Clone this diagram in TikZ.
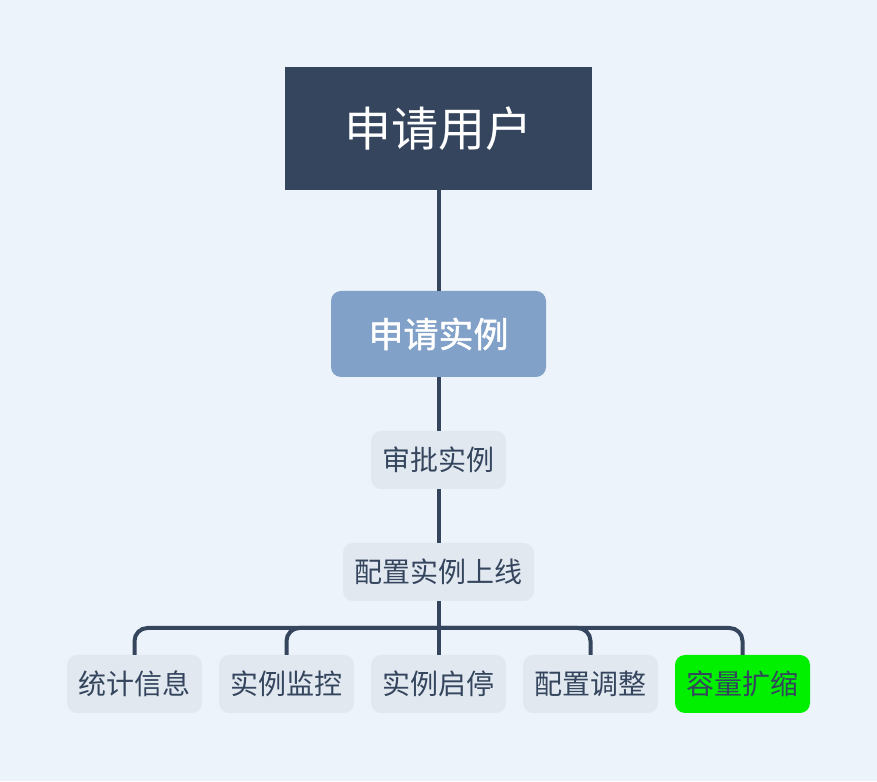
\documentclass[tikz,border=0pt]{standalone}
\usepackage{fontspec}
\newfontfamily\cjk{Noto Sans CJK SC}
\newfontfamily\cjkmed[FakeBold=1.3]{Noto Sans CJK SC}
\usetikzlibrary{positioning}
\definecolor{bg}{RGB}{236,243,250}
\definecolor{dark}{RGB}{52,69,93}
\definecolor{mainblue}{RGB}{130,161,200}
\definecolor{subfill}{RGB}{225,232,240}
\definecolor{hlgreen}{RGB}{0,240,0}
\tikzset{
  rootbox/.style={fill=dark, text=white, minimum width=307pt, minimum height=123pt, inner sep=0pt, font=\cjk\fontsize{47pt}{50pt}\selectfont},
  mainbox/.style={fill=mainblue, text=white, rounded corners=10pt, minimum width=215pt, minimum height=86pt, inner sep=0pt, font=\cjkmed\fontsize{35pt}{38pt}\selectfont},
  subbox/.style={fill=subfill, text=dark, rounded corners=10pt, minimum height=58pt, inner sep=0pt, font=\cjk\fontsize{28pt}{30pt}\selectfont},
  conn/.style={draw=dark, line width=4pt},
}
\begin{document}
\begin{tikzpicture}[x=1pt,y=1pt]
\fill[bg] (0,0) rectangle (877,781);
\useasboundingbox (0,0) rectangle (877,781);
\node[rootbox] (root) at (438.5,652.5) {申请用户};
\node[mainbox] (main) at (438.5,447) {申请实例};
\node[subbox, minimum width=135pt] (appr) at (438.5,321) {审批实例};
\node[subbox, minimum width=191pt] (cfg) at (438.5,209) {配置实例上线};
\node[subbox, minimum width=135pt] (n1) at (134.5,97) {统计信息};
\node[subbox, minimum width=135pt] (n2) at (286.5,97) {实例监控};
\node[subbox, minimum width=135pt] (n3) at (438.5,97) {实例启停};
\node[subbox, minimum width=135pt] (n4) at (590.5,97) {配置调整};
\node[subbox, minimum width=135pt, fill=hlgreen] (n5) at (742.5,97) {容量扩缩};
\coordinate (bar) at (438.5,153);
\draw[conn] (root.south) -- (main.north);
\draw[conn] (main.south) -- (appr.north);
\draw[conn] (appr.south) -- (cfg.north);
\draw[conn] (cfg.south) -- (n3.north);
\draw[conn, rounded corners=13pt] (bar) -| (n1.north);
\draw[conn, rounded corners=13pt] (bar) -| (n2.north);
\draw[conn, rounded corners=13pt] (bar) -| (n4.north);
\draw[conn, rounded corners=13pt] (bar) -| (n5.north);
\end{tikzpicture}
\end{document}
